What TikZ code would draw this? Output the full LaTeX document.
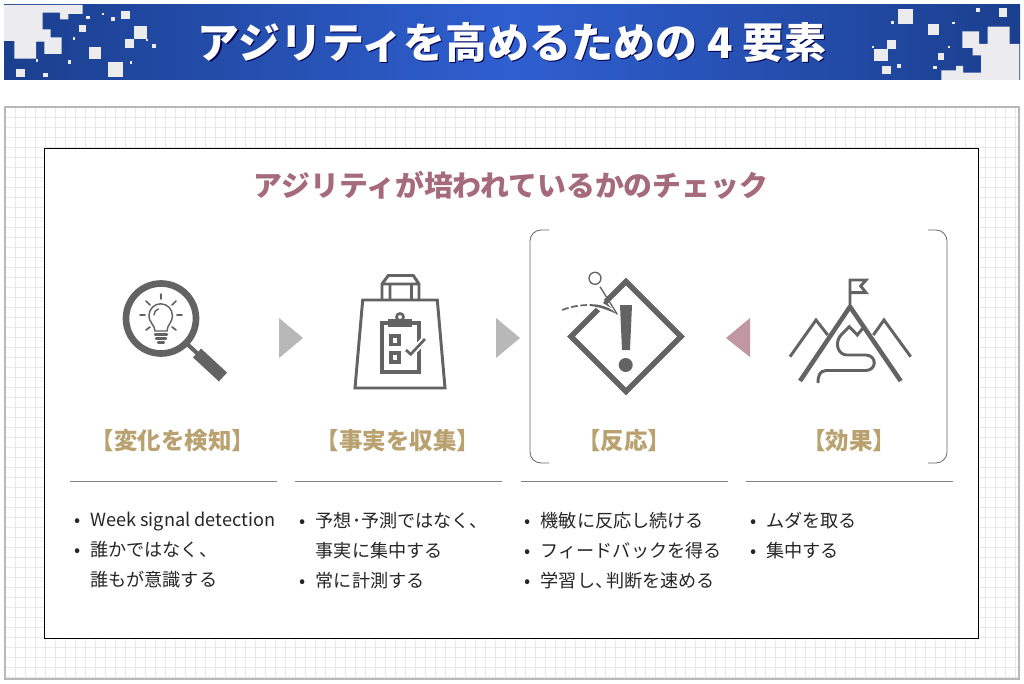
\documentclass[tikz,border=0pt]{standalone}
\usepackage{fontspec}
\setmainfont{Noto Sans CJK JP}
\definecolor{ic}{HTML}{636363}
\definecolor{gold}{HTML}{B9A26F}
\definecolor{rose}{HTML}{A56A7B}
\definecolor{lt}{HTML}{ECECEE}
\definecolor{bd}{HTML}{1B3F8E}
\definecolor{bm}{HTML}{2F5FD0}
\newcommand\bulletbox{\makebox[12pt][l]{•}}
\newcommand\indentbox{\makebox[12pt][l]{}}
\begin{document}
\begin{tikzpicture}[x=0.75pt,y=-0.75pt,
 ttl/.style={font=\fontsize{31.5pt}{32pt}\selectfont\bfseries,inner sep=0},
 head/.style={text=gold,font=\fontsize{17.6pt}{18pt}\selectfont\bfseries,inner sep=0},
 body/.style={font=\fontsize{13.6pt}{22.5pt}\selectfont,inner sep=0,anchor=north west,align=left,text=black!85},
 rl/.style={draw=gray!80!black,line width=0.6pt},
 lin/.style={draw=ic,line width=2.2pt}]
\useasboundingbox (0,0) rectangle (1024,684);
\fill[white] (0,0) rectangle (1024,684);
% banner
\shade[left color=bd,right color=bm] (4,5) rectangle (512,80);
\shade[left color=bm,right color=bd] (512,5) rectangle (1020,80);
\begin{scope}[x=0.25pt,y=-0.25pt]
\fill[lt] (12,15)--(248,15)--(248,42)--(205,42)--(205,58)--(180,58)--(180,38)--(128,38)--(128,88)--(152,88)--(152,112)--(185,112)--(185,162)--(133,162)--(133,125)--(108,125)--(108,176)--(43,176)--(43,123)--(12,123)--cycle;
\foreach \a/\b/\c/\d in {48/206/75/232,130/218/143/231,205/181/214/191,108/178/115/185,268/142/304/176,324/186/369/230,389/184/396/192,374/116/401/143,401/78/440/116,457/133/469/145,439/117/445/123,219/112/226/119,237/76/258/96,259/47/271/58,307/40/313/45,333/50/346/63,364/33/389/58}
 \fill[lt] (\a,\b) rectangle (\c,\d);
\begin{scope}[xshift=600pt]
\foreach \a/\b/\c/\d in {293/27/338/71,274/64/281/71,384/71/418/105,457/65/464/73,528/25/540/37,596/24/622/50,262/119/289/146,223/146/263/184,216/138/222/144,247/197/273/222,291/193/303/205,414/160/432/179,444/137/451/143,400/197/410/208}
 \fill[lt] (\a,\b) rectangle (\c,\d);
\fill[lt] (658,240)--(658,132)--(629,132)--(629,80)--(563,80)--(563,132)--(537,132)--(537,94)--(487,94)--(487,144)--(518,144)--(518,166)--(543,166)--(543,218)--(489,218)--(489,198)--(468,198)--(468,211)--(424,211)--(424,240)--cycle;
\end{scope}
\end{scope}
\node[ttl,text=black!70!blue] (t0) at (513.5,44) {アジリティを高めるための 4 要素};
\node[ttl,text=white] (t1) at (512,42.5) {アジリティを高めるための 4 要素};
% panel
\fill[white] (5,107) rectangle (1019,679);
\foreach \i in {1,...,101} \draw[black!9,line width=0.4pt] (5+10*\i,107)--(5+10*\i,679);
\foreach \i in {1,...,57} \draw[black!9,line width=0.4pt] (5,107+10*\i)--(1019,107+10*\i);
\draw[black!28,line width=0.8pt] (5,107) rectangle (1019,679);
\draw[fill=white,draw=black,line width=0.6pt] (44.5,148) rectangle (978.5,638);
\node[text=rose,font=\fontsize{21.65pt}{26pt}\selectfont\bfseries,inner sep=0] (sub) at (511,185) {アジリティが培われているかのチェック};
% bracket
\draw[rl] (549,230)--(541,230) arc[start angle=270,end angle=180,radius=11] -- (530,452) arc[start angle=180,end angle=90,radius=11] -- (549,463);
\draw[rl] (928,230)--(936,230) arc[start angle=-90,end angle=0,radius=11] -- (947,452) arc[start angle=0,end angle=90,radius=11] -- (928,463);
% arrows
\fill[black!28] (279,318)--(303,338)--(279,358)--cycle;
\fill[black!28] (496,318)--(520,338)--(496,358)--cycle;
\fill[rose!70] (750,318)--(726,338)--(750,357)--cycle;
% magnifier
\draw[ic,line width=5pt] (161,318.5) circle (35);
\draw[ic,line width=3pt] (186,343)--(198,354);
\draw[ic,line width=9pt] (197,353)--(223,377);
\begin{scope}[ic,line width=1.1pt,line cap=round]
\draw (155,331) .. controls (155,325) and (149,323) .. (149,315.5) arc[start angle=180,end angle=360,radius=11.7] .. controls (172.4,323) and (167,325) .. (167,331) -- cycle;
\draw[line width=1.6pt] (155,334.5)--(167,334.5) (156,338.5)--(166,338.5) (158,342.5)--(164,342.5);
\draw (154,315) arc[start angle=180,end angle=250,radius=6.5];
\draw[line width=1.3pt] (161,294)--(161,299) (140,315)--(145,315) (177,315)--(182,315) (146,301)--(150,305) (176,301)--(172,305) (146,330)--(150,327) (176,330)--(172,327);
\end{scope}
% bag
\draw[lin,line join=miter] (362.7,300)--(437.3,300)--(445,388)--(355,388)--cycle;
\draw[lin] (382,300)--(382,284)--(388.3,275.5)--(413.3,275.5)--(419,284)--(419,300) (390,300)--(390,284) (411.5,284)--(411.5,300) (382,284)--(419,284);
\draw[ic,line width=3pt] (381.5,323) rectangle (418.5,372);
\fill[ic] (387.5,319) rectangle (412,327);
\draw[ic,line width=2pt,fill=white] (400,317) circle (3.5);
\draw[ic,line width=2.6pt] (391,336) rectangle (399,344.5) (391,353) rectangle (399,362);
\draw[draw=white,line width=5pt] (406,350)--(410.7,354.3)--(425,339);
\draw[ic,line width=2pt] (406,350)--(410.7,354.3)--(425,339);
% alert
\draw[ic,line width=4pt,line join=miter] (626,281.5)--(681,336.5)--(626,391.5)--(571,336.5)--cycle;
\fill[ic] (620,305)--(632,305)--(630,350)--(622,350)--cycle;
\fill[ic] (625.7,365) circle (7);
\fill[white] (588,301)--(600,296)--(619,316)--(600,311)--cycle;
\draw[ic,line width=1pt] (595,278.3) circle (6);
\draw[ic,line width=1pt] (600,286.7)--(617.3,314.3);
\draw[ic,line width=1.3pt,dash pattern=on 5pt off 2pt] (562.3,310) .. controls (572,306) and (582,305) .. (590,305);
\fill[ic] (590,304.2) .. controls (600,304) and (610,307) .. (617.3,314.3) .. controls (608,310) and (600,307) .. (590,306) -- cycle;
\fill[ic] (603,303)--(605,300)--(611,308)--cycle;
% mountain
\begin{scope}[ic,line width=3.4pt,line join=miter]
\draw (800,381)--(850,306.7)--(900.7,381);
\draw[line width=2.2pt] (790,356.7)--(816,320)--(827.7,335);
\draw[line width=2.2pt] (873.3,335)--(884,320)--(910.7,356.7);
\draw[line width=2.2pt] (850,304)--(850,280)--(866,280)--(860.7,286)--(866,292.7)--(850,292.7);
\draw[line width=2.2pt] (863,328)--(857.3,335)--(849.3,326.7)--(841,335) .. controls (834,343) and (838,355) .. (847,355) -- (866,355) .. controls (877,355.5) and (877,370) .. (866,370.5) -- (826,370.5) .. controls (820,371) and (818,375) .. (818,383);
\end{scope}
% headers
\node[head] (h1) at (173,441) {【変化を検知】};
\node[head] (h2) at (398,441) {【事実を収集】};
\node[head] (h3) at (624,441) {【反応】};
\node[head] (h4) at (849,441) {【効果】};
\foreach \x in {70,295,521,746} \draw[black!50,line width=0.6pt] (\x,481.5)--(\x+206.5,481.5);
% bodies
\node[body] (b1) at (74,512) {\bulletbox Week signal detection\\\bulletbox 誰かではなく、\\\indentbox 誰もが意識する};
\node[body] (b2) at (299.5,512) {\bulletbox 予想･予測ではなく、\\\indentbox 事実に集中する\\\bulletbox 常に計測する};
\node[body] (b3) at (524.5,512) {\bulletbox 機敏に反応し続ける\\\bulletbox フィードバックを得る\\\bulletbox 学習し、\kern-0.4em 判断を速める};
\node[body] (b4) at (750,512) {\bulletbox ムダを取る\\\bulletbox 集中する};
\end{tikzpicture}
\end{document}
